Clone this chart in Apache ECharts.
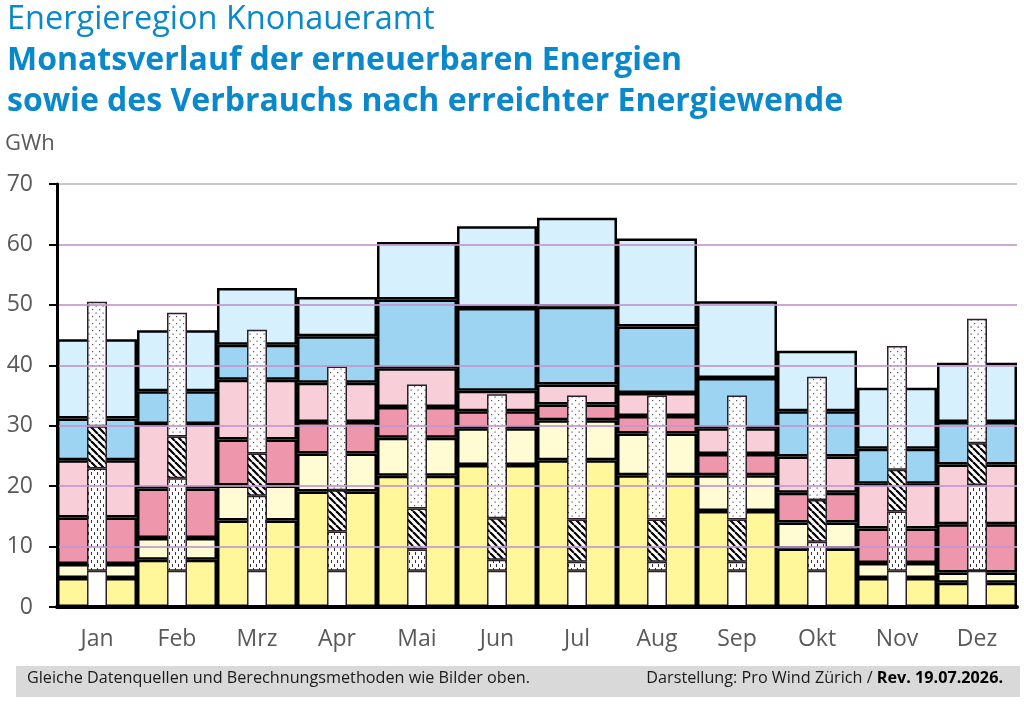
<!DOCTYPE html>
<html>
<head>
<meta charset="utf-8">
<script src="https://cdn.jsdelivr.net/npm/echarts@6/dist/echarts.min.js"></script>
<style>
  html, body { margin: 0; padding: 0; background: #fff; }
  #chart { width: 1024px; height: 706px; }
</style>
</head>
<body>
<div id="chart"></div>
<script>
// Monate
var months = ['Jan', 'Feb', 'Mrz', 'Apr', 'Mai', 'Jun', 'Jul', 'Aug', 'Sep', 'Okt', 'Nov', 'Dez'];
var yTicks = [0, 10, 20, 30, 40, 50, 60, 70];
// Gitterlinien, die über den Säulen liegen
var gridLines = [10, 20, 30, 40, 50, 60];

// Produktion (breite Säulen), GWh je Schicht von unten nach oben
var gelb     = [4.8, 7.8, 14.3, 19.1, 21.7, 23.5, 24.3, 21.8, 15.9, 9.7, 4.8, 4.0];
var hellgelb = [2.3, 3.6, 5.8, 6.3, 6.3, 6.1, 6.6, 6.9, 5.9, 4.3, 2.5, 1.7];
var rosa     = [7.7, 8.2, 7.6, 5.2, 5.1, 2.8, 2.6, 2.9, 3.5, 4.9, 5.7, 8.0];
var hellrosa = [9.5, 10.7, 9.9, 6.5, 6.4, 3.4, 3.3, 3.8, 4.3, 6.0, 7.4, 9.9];
var blau     = [6.9, 5.4, 5.8, 7.7, 11.4, 13.7, 12.9, 11.0, 8.3, 7.5, 5.8, 7.0];
var hellblau = [13.1, 10.1, 9.4, 6.5, 9.5, 13.5, 14.7, 14.6, 12.7, 10.0, 10.1, 9.8];

// Verbrauch (schmale Säulen)
var weiss       = [6.0, 6.0, 6.0, 6.0, 6.0, 6.0, 6.0, 6.0, 6.0, 6.0, 6.0, 6.0];
var gestrichelt = [16.9, 15.3, 12.4, 6.5, 3.5, 1.8, 1.5, 1.5, 1.5, 4.8, 9.8, 14.2];
var schraffiert = [7.0, 6.9, 7.0, 6.8, 6.8, 6.9, 7.0, 7.0, 7.0, 6.9, 6.9, 6.9];
var gepunktet   = [20.6, 20.5, 20.5, 20.5, 20.5, 20.5, 20.5, 20.5, 20.5, 20.4, 20.5, 20.6];

// Muster für die Verbrauchssäulen
function makePattern(kind) {
  var c = document.createElement('canvas');
  var ctx = c.getContext('2d');
  if (kind == 'dots') {
    c.width = 7; c.height = 7;
    ctx.fillStyle = '#fff'; ctx.fillRect(0, 0, 7, 7);
    ctx.fillStyle = '#555';
    ctx.fillRect(1, 1, 1.2, 1.2);
    ctx.fillRect(4.5, 4.5, 1.2, 1.2);
  } else if (kind == 'dash') {
    c.width = 6; c.height = 8;
    ctx.fillStyle = '#fff'; ctx.fillRect(0, 0, 6, 8);
    ctx.fillStyle = '#333';
    ctx.fillRect(1, 0, 1, 3);
    ctx.fillRect(4, 4, 1, 3);
  } else {
    c.width = 7; c.height = 7;
    ctx.fillStyle = '#fff'; ctx.fillRect(0, 0, 7, 7);
    ctx.strokeStyle = '#000';
    ctx.lineWidth = 2.2;
    for (var x = -7; x <= 7; x += 7) {
      ctx.beginPath();
      ctx.moveTo(x, 0);
      ctx.lineTo(x + 7, 7);
      ctx.stroke();
    }
  }
  return { image: c, repeat: 'repeat' };
}

var myChart = echarts.init(document.getElementById('chart'));

function prodSeries(name, data, color) {
  return {
    name: name,
    type: 'bar',
    stack: 'prod',
    xAxisIndex: 0,
    z: 2,
    barCategoryGap: '0%',
    data: data,
    itemStyle: { color: color, borderColor: '#000', borderWidth: 2.5 }
  };
}

function consSeries(name, data, color) {
  return {
    name: name,
    type: 'bar',
    stack: 'cons',
    xAxisIndex: 1,
    z: 3,
    barWidth: 20,
    data: data,
    itemStyle: { color: color, borderColor: '#2b1f2b', borderWidth: 1.5 }
  };
}

var gridColor = 'rgba(195,150,205,0.6)';

var topSeries = consSeries('gepunktet', gepunktet, makePattern('dots'));
topSeries.markLine = {
  silent: true,
  z: 6,
  symbol: 'none',
  animation: false,
  label: { show: false },
  lineStyle: { color: gridColor, width: 2, type: 'solid' },
  data: gridLines.map(function (v) { return { yAxis: v }; })
};

var option = {
  backgroundColor: '#fff',
  animation: false,
  grid: { left: 57, right: 7, top: 184, bottom: 99 },
  xAxis: [{
    type: 'category',
    data: months,
    zlevel: 1,
    axisLine: { lineStyle: { color: '#000', width: 4 } },
    axisTick: { show: false },
    axisLabel: { color: '#595959', fontSize: 23, fontFamily: 'Open Sans', margin: 21 }
  }, {
    type: 'category',
    data: months,
    show: false
  }],
  yAxis: {
    type: 'value',
    min: 0,
    max: 70,
    interval: 10,
    zlevel: 1,
    axisLine: { show: true, lineStyle: { color: '#000', width: 3 } },
    axisTick: { show: true, length: 8, lineStyle: { color: '#000', width: 2 } },
    axisLabel: {
      color: '#595959', fontSize: 23, fontFamily: 'Open Sans', margin: 24,
      formatter: function (v) { return yTicks.indexOf(v) >= 0 ? String(v) : ''; }
    },
    splitLine: {
      lineStyle: {
        width: 2,
        color: ['rgba(0,0,0,0)', gridColor, gridColor, gridColor, gridColor, gridColor, gridColor, '#c8c8c8']
      }
    }
  },
  series: [
    prodSeries('gelb', gelb, '#fff799'),
    prodSeries('hellgelb', hellgelb, '#fffbd2'),
    prodSeries('rosa', rosa, '#ee96ab'),
    prodSeries('hellrosa', hellrosa, '#f8cfd9'),
    prodSeries('blau', blau, '#9cd4f1'),
    prodSeries('hellblau', hellblau, '#d6f1fd'),
    consSeries('weiss', weiss, '#fff'),
    consSeries('gestrichelt', gestrichelt, makePattern('dash')),
    consSeries('schraffiert', schraffiert, makePattern('hatch')),
    topSeries
  ],
  graphic: [
    { type: 'text', left: 7, top: 3,
      style: { text: 'Energieregion Knonaueramt', fill: '#0a88cc', font: '32.5px "Open Sans"' } },
    { type: 'text', left: 7, top: 45,
      style: { text: 'Monatsverlauf der erneuerbaren Energien', fill: '#0a88cc', font: 'bold 32px "Open Sans"' } },
    { type: 'text', left: 7, top: 86,
      style: { text: 'sowie des Verbrauchs nach erreichter Energiewende', fill: '#0a88cc', font: 'bold 32px "Open Sans"' } },
    { type: 'text', left: 5, top: 133,
      style: { text: 'GWh', fill: '#595959', font: '22px "Open Sans"' } },
    { type: 'rect', left: 16, top: 666, shape: { width: 1004, height: 31 },
      style: { fill: '#d9d9d9' } },
    { type: 'text', left: 27, top: 670,
      style: { text: 'Gleiche Datenquellen und Berechnungsmethoden wie Bilder oben.', fill: '#1a1a1a', font: '16.2px "Open Sans"' } },
    { type: 'text', right: 21, top: 670,
      style: {
        text: '{n|Darstellung: Pro Wind Zürich / }{b|Rev. 19.07.2026.}',
        rich: {
          n: { fill: '#1a1a1a', font: '16.2px "Open Sans"' },
          b: { fill: '#000', font: 'bold 16.2px "Open Sans"' }
        }
      } }
  ]
};

myChart.setOption(option);

window.onresize = function () {
  myChart.resize();
};
</script>
</body>
</html>
